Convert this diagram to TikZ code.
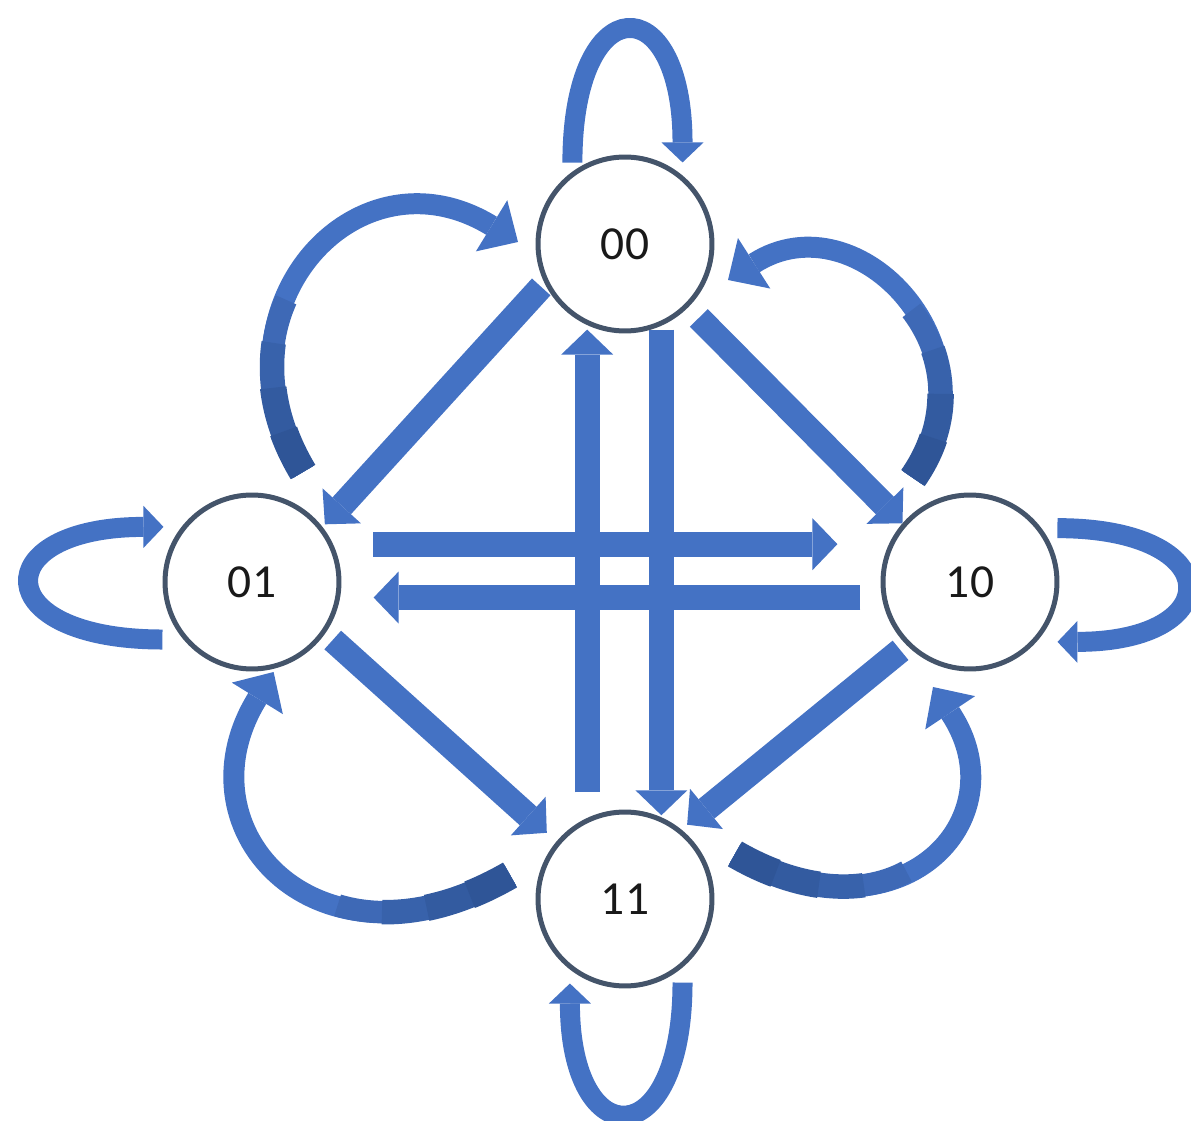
\documentclass[tikz,border=0pt]{standalone}
\usepackage{fontspec}
\setmainfont{Carlito}
\usepackage{tikz}
\usetikzlibrary{arrows.meta}
\definecolor{myblue}{RGB}{68,114,196}
\definecolor{tailblue}{RGB}{47,85,151}
\definecolor{ringgray}{RGB}{68,84,106}
\definecolor{mydark}{RGB}{25,25,25}
\tikzset{
  state/.style={circle, draw=ringgray, fill=white, line width=0.1cm,
    minimum size=3.48cm, inner sep=0pt, text=mydark,
    font=\fontsize{27}{32}\selectfont},
  arrow/.style={draw=myblue, line width=0.5cm,
    -{Triangle[width=1.04cm,length=0.5cm,line width=0pt]}},
  looparrow/.style={draw=myblue, line width=0.4cm,
    -{Triangle[width=0.84cm,length=0.4cm,line width=0pt]}},
  tailpart/.style n args={3}{postaction={draw=tailblue!#1!myblue, arrows=-,
    line width=#2, dash pattern=on #3 off 60cm}},
  bigarrow/.style={draw=myblue, line width=0.42cm,
    -{Triangle[width=1.2cm,length=0.62cm,line width=0pt]},
    tailpart={30}{0.45cm}{3.6cm}, tailpart={55}{0.49cm}{2.7cm},
    tailpart={80}{0.53cm}{1.8cm}, tailpart={100}{0.57cm}{0.9cm}}
}
\begin{document}
\begin{tikzpicture}[x=0.02cm, y=0.02cm]
  \useasboundingbox (0,0) rectangle (1191,1120);

  % --- STATES ---
  \node[state] (s00) at (625,876) {00};
  \node[state] (s01) at (252,538) {01};
  \node[state] (s10) at (970,538) {10};
  \node[state] (s11) at (625,221) {11};

  % --- SELF LOOPS ---
  \draw[looparrow, shorten <=0.18cm, shorten >=0.26cm] (s00.126) .. controls +(0,185) and +(0,189) .. (s00.50);
  \draw[looparrow, shorten <=0.42cm, shorten >=0.36cm] (s01.220) .. controls +(-197,0) and +(-195,0) .. (s01.142);
  \draw[looparrow, shorten <=0.32cm, shorten >=0.42cm] (s10.37) .. controls +(187,0) and +(192,0) .. (s10.-42);
  \draw[looparrow, shorten <=0.3cm, shorten >=0.28cm] (s11.-50) .. controls +(0,-189) and +(0,-187) .. (s11.232);

  % --- STRAIGHT TRANSITIONS ---
  \draw[arrow, shorten <=0.1cm, shorten >=0.07cm] (s00.206) -- (s01.38);
  \draw[arrow, shorten <=0.3cm] (s00.-45) -- (s10.139);
  \draw[arrow, shorten <=0.2cm, shorten >=0.26cm] (s01.-35) -- (s11.140);
  \draw[arrow, shorten <=0.16cm, shorten >=0.15cm] (s10.225) -- (s11.51);
  \draw[arrow, shorten <=0.8cm, shorten >=1.03cm] (s01.25) -- (s10.155);
  \draw[arrow, shorten <=0.43cm, shorten >=0.67cm] (s10.190) -- (s01.-10);
  \draw[arrow, shorten <=0.51cm, shorten >=0.09cm] (s11.115) -- (s00.245);
  \draw[arrow, shorten <=0.08cm, shorten >=0.04cm] (s00.294) -- (s11.66);

  % --- CURVED TRANSITIONS ---
  \draw[bigarrow] ([shift={(51,110)}]s01.center) .. controls +(121:190) and +(148.5:190) .. ([shift={(-107,2)}]s00.center);
  \draw[bigarrow] ([shift={(-57,104)}]s10.center) .. controls +(55:155) and +(32.6:155) .. ([shift={(103,-36)}]s00.center);
  \draw[bigarrow] ([shift={(-115,24)}]s11.center) .. controls +(210:220) and +(238.3:187) .. ([shift={(21.6,-90)}]s01.center);
  \draw[bigarrow] ([shift={(110,45)}]s11.center) .. controls +(-30:190) and +(303.7:158.6) .. ([shift={(-37,-105)}]s10.center);
\end{tikzpicture}
\end{document}
